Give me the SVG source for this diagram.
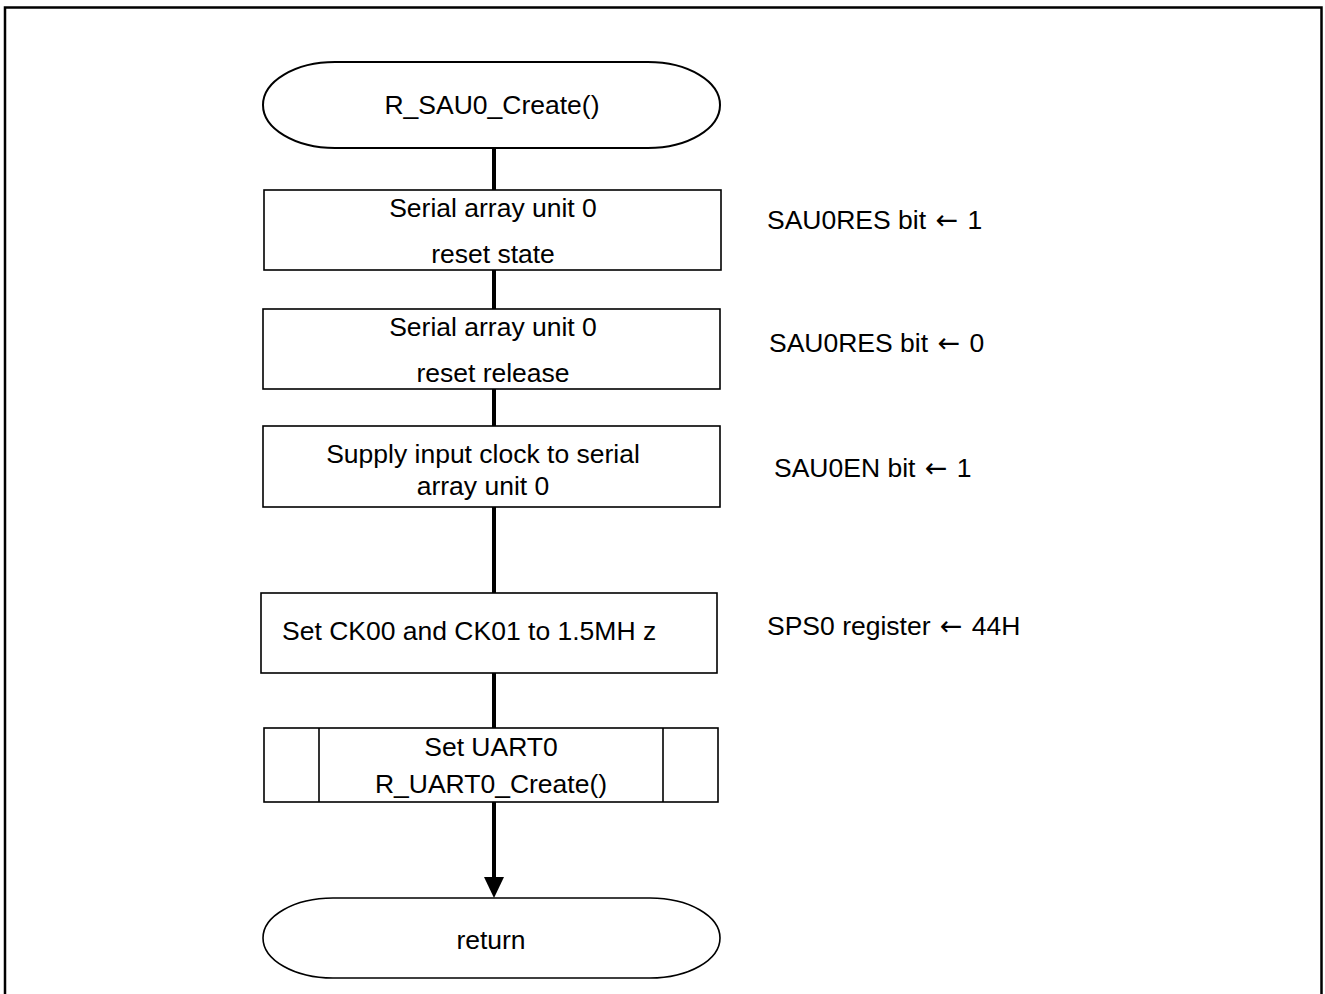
<svg xmlns="http://www.w3.org/2000/svg" width="1325" height="994" viewBox="0 0 1325 994">
<style>
text{font-family:"Liberation Sans",Arial,sans-serif;font-size:26.5px;fill:#000}
.c{text-anchor:middle}
.ar{font-family:"DejaVu Sans",sans-serif;font-size:27px}
.box{fill:#fff;stroke:#000;stroke-width:1.6}
.term{fill:#fff;stroke:#000;stroke-width:2}
.conn{stroke:#000;stroke-width:4;fill:none}
</style>
<rect width="1325" height="994" fill="#fff"/>
<path d="M5,1000 V7.5 H1321.5 V1000" fill="none" stroke="#000" stroke-width="2.5"/>
<g id="connectors">
<line class="conn" x1="494" y1="148" x2="494" y2="190"/>
<line class="conn" x1="494" y1="270" x2="494" y2="309"/>
<line class="conn" x1="494" y1="389" x2="494" y2="426"/>
<line class="conn" x1="494" y1="507" x2="494" y2="593"/>
<line class="conn" x1="494" y1="673" x2="494" y2="728"/>
<line class="conn" x1="494" y1="802" x2="494" y2="877"/>
<path d="M484,877 L504,877 L494,898 Z" fill="#000"/>
</g>
<g id="start">
<path class="term" d="M335,62 H648 A72,43 0 0 1 648,148 H335 A72,43 0 0 1 335,62 Z"/>
<text class="c" x="492" y="114">R_SAU0_Create()</text>
</g>
<g id="reset_state">
<rect class="box" x="264" y="190" width="457" height="80"/>
<text class="c" x="493" y="217">Serial array unit 0</text>
<text class="c" x="493" y="263">reset state</text>
</g>
<g id="reset_release">
<rect class="box" x="263" y="309" width="457" height="80"/>
<text class="c" x="493" y="336">Serial array unit 0</text>
<text class="c" x="493" y="382">reset release</text>
</g>
<g id="supply_clock">
<rect class="box" x="263" y="426" width="457" height="81"/>
<text class="c" x="483" y="463">Supply input clock to serial</text>
<text class="c" x="483" y="495">array unit 0</text>
</g>
<g id="set_ck">
<rect class="box" x="261" y="593" width="456" height="80"/>
<text x="282" y="640">Set CK00 and CK01 to 1.5MH z</text>
</g>
<g id="set_uart0">
<rect class="box" x="264" y="728" width="454" height="74"/>
<line class="box" x1="319" y1="728" x2="319" y2="802"/>
<line class="box" x1="663" y1="728" x2="663" y2="802"/>
<text class="c" x="491" y="756">Set UART0</text>
<text class="c" x="491" y="793">R_UART0_Create()</text>
</g>
<g id="return">
<path class="box" d="M333,898 H650 A70,40 0 0 1 650,978 H333 A70,40 0 0 1 333,898 Z"/>
<text class="c" x="491" y="949">return</text>
</g>
<g id="notes">
<text x="767" y="229">SAU0RES bit <tspan class="ar" dx="2">←</tspan><tspan dx="2"> 1</tspan></text>
<text x="769" y="352">SAU0RES bit <tspan class="ar" dx="2">←</tspan><tspan dx="2"> 0</tspan></text>
<text x="774" y="477">SAU0EN bit <tspan class="ar" dx="2">←</tspan><tspan dx="2"> 1</tspan></text>
<text x="767" y="635">SPS0 register <tspan class="ar" dx="2">←</tspan><tspan dx="2"> 44H</tspan></text>
</g>
</svg>
